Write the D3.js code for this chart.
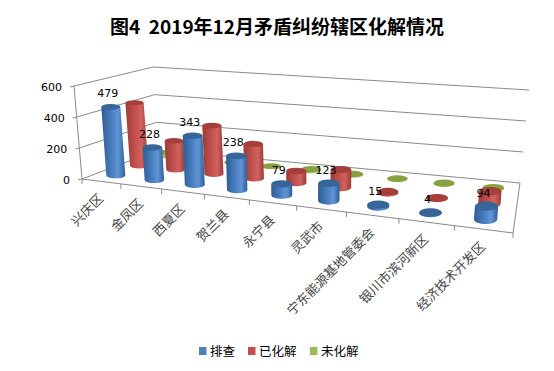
<!DOCTYPE html>
<html><head><meta charset="utf-8">
<script src="https://cdn.jsdelivr.net/npm/d3@7/dist/d3.min.js"></script>
<style>html,body{margin:0;padding:0;background:#fff}svg{display:block}</style>
</head><body><div id="c"></div>
<script>
const titleText = "图4  2019年12月矛盾纠纷辖区化解情况";
const categories = ["兴庆区","金凤区","西夏区","贺兰县","永宁县","灵武市","宁东能源基地管委会","银川市滨河新区","经济技术开发区"];
const seriesNames = ["排查","已化解","未化解"];
const paicha = [479,228,343,238,79,123,15,4,94];
const yihuajie = [440,203,338,240,84,128,10,3,90];
const weihuajie = [25,8,5,3,10,3,1,1,1];
const yTicks = [0,200,400,600];
const seriesColors = ["#4f81bd","#c0504d","#9bbb59"];

const W=554,H=371;
const svg=d3.select("#c").append("svg").attr("width",W).attr("height",H).attr("viewBox",`0 0 ${W} ${H}`);
const defs=svg.append("defs");
const grad=[["#2f5d94","#4a7fc0","#5f95d6","#2f5d94"],["#9c3a37","#c4524f","#d0625e","#9c3a37"],["#7a9a3a","#9bbb59","#a8c866","#7a9a3a"]];
const caps=["#376499","#a53f3b","#85a23f"];
grad.forEach((g,i)=>{
  const lg=defs.append("linearGradient").attr("id","g"+i).attr("x1",0).attr("x2",1).attr("y1",0).attr("y2",0);
  [0,.45,.7,1].forEach((o,k)=>lg.append("stop").attr("offset",o).attr("stop-color",g[k]));
});

// Perspective frame
const FL=[82,179],FR=[513,233],BL=[158,150],BR=[520,183];
const lerp=d3.interpolateNumber;
const warp=t=>t/(1.26-0.26*t);
const xBand=d3.scaleLinear().domain([0,categories.length]).range([0,1]);
const depth=d3.scaleOrdinal().domain([0,1,2]).range([0.2,0.52,0.85]);
function floor(u,d){
  const fx=lerp(FL[0],FR[0])(u),fy=lerp(FL[1],FR[1])(u),bx=lerp(BL[0],BR[0])(u),by=lerp(BL[1],BR[1])(u);
  return [lerp(fx,bx)(d),lerp(fy,by)(d)];
}
const wallFront=d3.scaleLinear().domain([0,600]).range([0,93]);
const wallBackL=d3.scaleLinear().domain([0,600]).range([0,83]);
const wallBackR=d3.scaleLinear().domain([0,600]).range([0,93]);
const barH=d3.scaleLinear().domain([0,600]).range([0,86]);
const tilt=d3.scaleLinear().domain([0,1]).range([-0.08,0.08]);
const rxS=d3.scaleLinear().domain([0,1]).range([9.4,11.8]);
const ryS=d3.scaleLinear().domain([0,1]).range([2.8,4.6]);

const axisColor="#8a8a8a";
const walls=svg.append("g").attr("fill","none").attr("stroke",axisColor).attr("stroke-width",1);
const ln=(a,b)=>walls.append("line").attr("x1",a[0]).attr("y1",a[1]).attr("x2",b[0]).attr("y2",b[1]);
yTicks.forEach(v=>{
  const f=[FL[0]-v/600*8,FL[1]-wallFront(v)];
  const bl=[BL[0]-v/600*5,BL[1]-wallBackL(v)];
  const br=[BR[0]+v/600*9,BR[1]-wallBackR(v)];
  ln(f,bl);ln(bl,br);
  ln(f,[f[0]-4,f[1]+1]);
  svg.append("text").attr("x",f[0]-12).attr("y",f[1]+5).attr("text-anchor","end")
    .attr("font-family","DejaVu Sans").attr("font-size",11).attr("fill","#000").text(v);
});
ln(FL,[FL[0]-8,FL[1]-93]);
ln(FL,FR);ln(FR,BR);
d3.range(categories.length+1).forEach(i=>{
  const p=floor(warp(xBand(i)),0);
  ln(p,[p[0],p[1]+5]);
});

// Cylinders: back series first
[2,1,0].forEach(s=>{
  const vals=[paicha,yihuajie,weihuajie][s];
  const g=svg.append("g");
  vals.forEach((v,i)=>{
    const u=warp(xBand(i+.5));
    const [bx,by]=floor(u,depth(s));
    const h=barH(v),tx=bx+tilt(u)*h,ty=by-h;
    const rx=rxS(u)-(s*0.4),ry=ryS(u)-(s*0.3);
    g.append("path").attr("fill",`url(#g${s})`)
      .attr("d",`M${tx-rx},${ty}L${bx-rx},${by}A${rx},${ry} 0 0 0 ${bx+rx},${by}L${tx+rx},${ty}Z`);
    g.append("ellipse").attr("cx",tx).attr("cy",ty).attr("rx",rx).attr("ry",ry).attr("fill",caps[s]);
  });
});

// Data labels
const lab=svg.append("g");
paicha.forEach((v,i)=>{
  const u=warp(xBand(i+.5));
  const [bx,by]=floor(u,depth(0));
  const h=barH(v);
  lab.append("text").attr("x",bx+tilt(u)*h-3).attr("y",by-h-9.5).attr("text-anchor","middle")
    .attr("font-family","DejaVu Sans").attr("font-size",11).attr("fill","#000").text(v);
});

// Category labels
categories.forEach((c,i)=>{
  const p=floor(warp(xBand(i+.5)),0);
  svg.append("text").attr("transform",`translate(${p[0]+3},${p[1]+18}) rotate(-45)`)
    .attr("text-anchor","end").attr("font-family","Noto Sans CJK SC").attr("font-size",13)
    .attr("fill","#444").text(c);
});

// Title
svg.append("text").attr("x",277).attr("y",34).attr("text-anchor","middle")
  .style("white-space","pre")
  .attr("font-family","Noto Sans CJK SC").attr("font-weight",700).attr("font-size",19).attr("fill","#000").text(titleText);

// Legend
const legX=[199,248,310];
seriesNames.forEach((n,i)=>{
  svg.append("rect").attr("x",legX[i]).attr("y",347).attr("width",7.5).attr("height",8).attr("fill",seriesColors[i]);
  svg.append("text").attr("x",legX[i]+11).attr("y",355.5).attr("font-family","Noto Sans CJK SC").attr("font-size",12.5).attr("fill","#000").text(n);
});
</script></body></html>
